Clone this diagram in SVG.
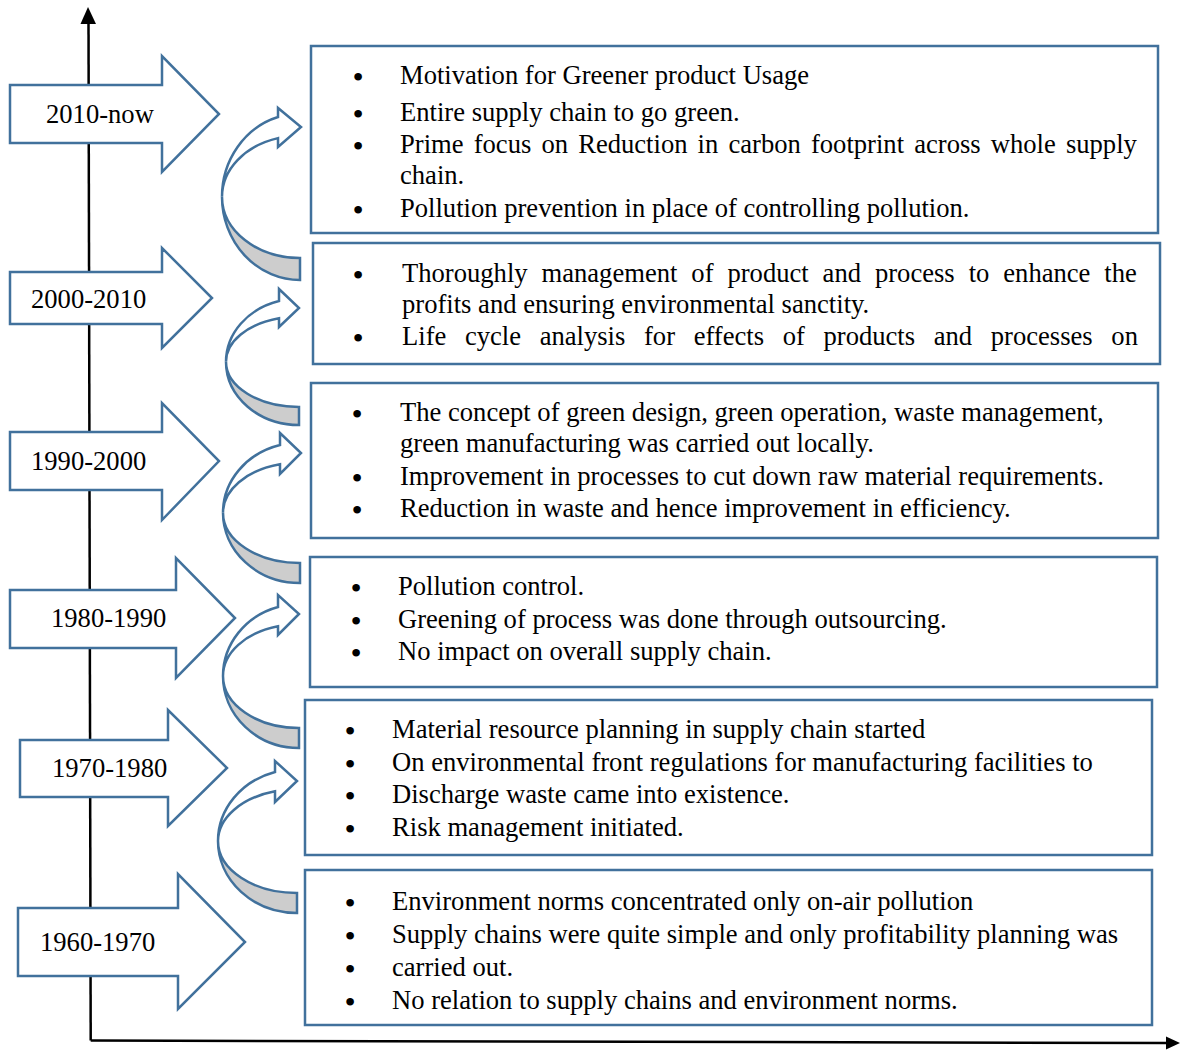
<svg xmlns="http://www.w3.org/2000/svg" width="1180" height="1050" viewBox="0 0 1180 1050">
<style>
.box{fill:#fff;stroke:#41719C;stroke-width:2.5}
.blk{fill:#fff;stroke:#41719C;stroke-width:2.5;stroke-linejoin:miter}
.cw{fill:#fff;stroke:#41719C;stroke-width:2.5;stroke-linejoin:miter}
.cg{fill:#cdcdcd;stroke:#41719C;stroke-width:2.5;stroke-linejoin:miter}
.ax{stroke:#000;stroke-width:2.5;fill:none}
.ah{fill:#000}
.t{font-family:"Liberation Serif","Times New Roman",serif;font-size:26.6px;fill:#000}
.b{font-size:32px;text-anchor:middle}
.w{text-anchor:start}
</style>
<rect width="1180" height="1050" fill="#fff"/>
<g id="axes">
<line class="ax" x1="88.5" y1="20" x2="90.7" y2="1040.5"/>
<line class="ax" x1="90.7" y1="1040.5" x2="1170" y2="1043"/>
<polygon class="ah" points="88,7 80.5,24 96,24"/>
<polygon class="ah" points="1180,1043 1166,1036.5 1166,1049.5"/>
</g>
<g id="era-2010">
<polygon class="blk" points="10,85 162,85 162,56 219,114 162,172 162,143 10,143"/>
<text class="t" x="46" y="123">2010-now</text>
</g>
<g id="era-2000">
<polygon class="blk" points="10,272 162,272 162,248 212,298 162,348 162,324 10,324"/>
<text class="t" x="31" y="308">2000-2010</text>
</g>
<g id="era-1990">
<polygon class="blk" points="10,432 162,432 162,403 219,461 162,520 162,490 10,490"/>
<text class="t" x="31" y="470">1990-2000</text>
</g>
<g id="era-1980">
<polygon class="blk" points="10,590 176,590 176,558 235,618 176,678 176,648 10,648"/>
<text class="t" x="51" y="627">1980-1990</text>
</g>
<g id="era-1970">
<polygon class="blk" points="20,740 168,740 168,710 227,768 168,826 168,797 20,797"/>
<text class="t" x="52" y="777">1970-1980</text>
</g>
<g id="era-1960">
<polygon class="blk" points="18,908 178,908 178,874 245,942 178,1009 178,976 18,976"/>
<text class="t" x="40" y="951">1960-1970</text>
</g>
<g id="connectors">
<path class="cg" d="M300,280 A78,83.2 0 0 1 222,196.8 A78,61.2 0 0 0 300,258 Z"/>
<path class="cw" d="M222,196.8 A78,83.2 0 0 1 278,117 L278,108 L301,127 L278,147 L278,138.1 A78,61.2 0 0 0 222,196.8 Z"/>
<path class="cg" d="M299,425 A73,63.2 0 0 1 226,361.8 A73,45.2 0 0 0 299,407 Z"/>
<path class="cw" d="M226,361.8 A73,63.2 0 0 1 279,301 L279,289 L299,308 L279,327 L279,318.3 A73,45.2 0 0 0 226,361.8 Z"/>
<path class="cg" d="M300,583 A77,70.2 0 0 1 223,512.8 A77,50.2 0 0 0 300,563 Z"/>
<path class="cw" d="M223,512.8 A77,70.2 0 0 1 280,445 L280,433 L301,453 L280,474 L280,464.3 A77,50.2 0 0 0 223,512.8 Z"/>
<path class="cg" d="M299,748 A76,71.9 0 0 1 223,676.1 A76,51.9 0 0 0 299,728 Z"/>
<path class="cw" d="M223,676.1 A76,71.9 0 0 1 278,607 L278,595 L299,614 L278,635 L278,626.2 A76,51.9 0 0 0 223,676.1 Z"/>
<path class="cg" d="M297,913 A79,71.9 0 0 1 218,841.1 A79,51.9 0 0 0 297,893 Z"/>
<path class="cw" d="M218,841.1 A79,71.9 0 0 1 275,772 L275,761 L297,781 L275,802 L275,791.3 A79,51.9 0 0 0 218,841.1 Z"/>
</g>
<g id="box-2010">
<rect class="box" x="311" y="46" width="847" height="187"/>
<text class="t" y="84"><tspan class="b" x="358" dy="4">•</tspan><tspan class="w" x="400" dy="-4">Motivation for Greener product Usage</tspan></text>
<text class="t" y="121"><tspan class="b" x="358" dy="4">•</tspan><tspan class="w" x="400" dy="-4">Entire supply chain to go green.</tspan></text>
<text class="t" y="153"><tspan class="b" x="358" dy="4">•</tspan><tspan class="w" x="400" dy="-4" word-spacing="3.5">Prime focus on Reduction in carbon footprint across whole supply</tspan></text>
<text class="t" x="400" y="184">chain.</text>
<text class="t" y="217"><tspan class="b" x="358" dy="4">•</tspan><tspan class="w" x="400" dy="-4">Pollution prevention in place of controlling pollution.</tspan></text>
</g>
<g id="box-2000">
<rect class="box" x="313" y="243" width="847" height="121"/>
<text class="t" y="282"><tspan class="b" x="358" dy="4">•</tspan><tspan class="w" x="402" dy="-4" word-spacing="7.3">Thoroughly management of product and process to enhance the</tspan></text>
<text class="t" x="402" y="313">profits and ensuring environmental sanctity.</text>
<text class="t" y="345"><tspan class="b" x="358" dy="4">•</tspan><tspan class="w" x="402" dy="-4" word-spacing="12">Life cycle analysis for effects of products and processes on</tspan></text>
</g>
<g id="box-1990">
<rect class="box" x="311" y="383" width="847" height="155"/>
<text class="t" y="421"><tspan class="b" x="357" dy="4">•</tspan><tspan class="w" x="400" dy="-4">The concept of green design, green operation, waste management,</tspan></text>
<text class="t" x="400" y="452">green manufacturing was carried out locally.</text>
<text class="t" y="485"><tspan class="b" x="357" dy="4">•</tspan><tspan class="w" x="400" dy="-4">Improvement in processes to cut down raw material requirements.</tspan></text>
<text class="t" y="517"><tspan class="b" x="357" dy="4">•</tspan><tspan class="w" x="400" dy="-4">Reduction in waste and hence improvement in efficiency.</tspan></text>
</g>
<g id="box-1980">
<rect class="box" x="310" y="557" width="847" height="130"/>
<text class="t" y="595"><tspan class="b" x="356" dy="4">•</tspan><tspan class="w" x="398" dy="-4">Pollution control.</tspan></text>
<text class="t" y="628"><tspan class="b" x="356" dy="4">•</tspan><tspan class="w" x="398" dy="-4">Greening of process was done through outsourcing.</tspan></text>
<text class="t" y="660"><tspan class="b" x="356" dy="4">•</tspan><tspan class="w" x="398" dy="-4">No impact on overall supply chain.</tspan></text>
</g>
<g id="box-1970">
<rect class="box" x="305" y="700" width="847" height="155"/>
<text class="t" y="738"><tspan class="b" x="350" dy="4">•</tspan><tspan class="w" x="392" dy="-4">Material resource planning in supply chain started</tspan></text>
<text class="t" y="771"><tspan class="b" x="350" dy="4">•</tspan><tspan class="w" x="392" dy="-4">On environmental front regulations for manufacturing facilities to</tspan></text>
<text class="t" y="803"><tspan class="b" x="350" dy="4">•</tspan><tspan class="w" x="392" dy="-4">Discharge waste came into existence.</tspan></text>
<text class="t" y="836"><tspan class="b" x="350" dy="4">•</tspan><tspan class="w" x="392" dy="-4">Risk management initiated.</tspan></text>
</g>
<g id="box-1960">
<rect class="box" x="305" y="870" width="847" height="155"/>
<text class="t" y="910"><tspan class="b" x="350" dy="4">•</tspan><tspan class="w" x="392" dy="-4">Environment norms concentrated only on-air pollution</tspan></text>
<text class="t" y="943"><tspan class="b" x="350" dy="4">•</tspan><tspan class="w" x="392" dy="-4">Supply chains were quite simple and only profitability planning was</tspan></text>
<text class="t" y="976"><tspan class="b" x="350" dy="4">•</tspan><tspan class="w" x="392" dy="-4">carried out.</tspan></text>
<text class="t" y="1009"><tspan class="b" x="350" dy="4">•</tspan><tspan class="w" x="392" dy="-4">No relation to supply chains and environment norms.</tspan></text>
</g>
</svg>
